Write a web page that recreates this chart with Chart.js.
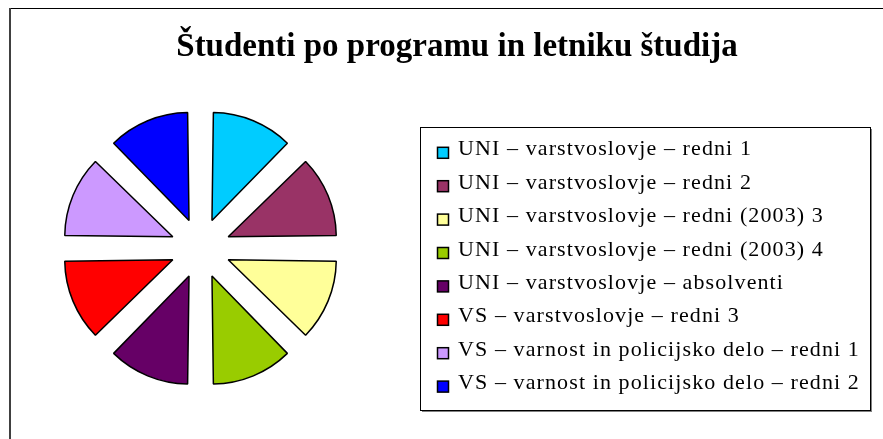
<!DOCTYPE html>
<html>
<head>
<meta charset="utf-8">
<script src="https://cdn.jsdelivr.net/npm/chart.js@4.4.1/dist/chart.umd.min.js"></script>
<style>
  html, body { margin: 0; padding: 0; background: #fff; }
  #wrap { width: 883px; height: 439px; position: relative; }
</style>
</head>
<body>
<div id="wrap"><canvas id="pie" width="883" height="439"></canvas></div>
<script>
// podatki
const naslov = "Študenti po programu in letniku študija";
const programi = [
    "UNI – varstvoslovje – redni 1",
    "UNI – varstvoslovje – redni 2",
    "UNI – varstvoslovje – redni (2003) 3",
    "UNI – varstvoslovje – redni (2003) 4",
    "UNI – varstvoslovje – absolventi",
    "VS – varstvoslovje – redni 3",
    "VS – varnost in policijsko delo – redni 1",
    "VS – varnost in policijsko delo – redni 2"
];
const stevilo = [1, 1, 1, 1, 1, 1, 1, 1];
const barve = ["#00CCFF", "#993366", "#FFFF99", "#99CC00", "#660066", "#FF0000", "#CC99FF", "#0000FF"];

//  okvir, naslov in legenda
const okvirPlugin = {
    id: 'okvir',
    beforeDraw(chart) {
        const ctx = chart.ctx;
        ctx.save();
        ctx.fillStyle = '#fff';
        ctx.fillRect(0, 0, chart.width, chart.height);
        // zunanji okvir
        ctx.strokeStyle = '#000';
        ctx.lineWidth = 1;
        ctx.beginPath();
        ctx.moveTo(9, 8.5);
        ctx.lineTo(chart.width, 8.5);
        ctx.stroke();
        ctx.strokeStyle = '#404040';
        ctx.lineWidth = 2;
        ctx.beginPath();
        ctx.moveTo(10, 8);
        ctx.lineTo(10, chart.height);
        ctx.stroke();
        ctx.restore();
    },
    afterDraw(chart) {
        const ctx = chart.ctx;
        ctx.save();
        // naslov
        ctx.fillStyle = '#000';
        ctx.font = 'bold 33px "Liberation Serif", "Times New Roman", serif';
        ctx.textAlign = 'center';
        ctx.textBaseline = 'alphabetic';
        ctx.fillText(naslov, 457, 56);

        // legenda - okvir s senco
        const lx = 420, ly = 127, lw = 450, lh = 283;
        ctx.fillStyle = '#808080';
        ctx.fillRect(lx + 2, ly + lh, lw, 2);
        ctx.fillRect(lx + lw, ly + 2, 2, lh);
        ctx.strokeStyle = '#000';
        ctx.lineWidth = 1;
        ctx.strokeRect(lx + 0.5, ly + 0.5, lw, lh);

        ctx.font = '22px "Liberation Serif", "Times New Roman", serif';
        ctx.letterSpacing = '1.1px';
        ctx.textAlign = 'left';
        ctx.textBaseline = 'alphabetic';
        programi.forEach((lbl, i) => {
            const cy = 152.8 + i * 33.4;
            ctx.fillStyle = barve[i];
            ctx.fillRect(437.5, cy - 5.5, 11, 11);
            ctx.strokeStyle = '#000';
            ctx.lineWidth = 1.5;
            ctx.strokeRect(437.5, cy - 5.5, 11, 11);
            ctx.fillStyle = '#000';
            ctx.fillText(lbl, 458, cy + 2.5);
        });
        ctx.restore();
    }
};

// Chart.js v4 deli offset z 4 (120 -> 30 px) in rezini doda se ~8.8 px polmera
const ctx = document.getElementById('pie').getContext('2d');
const pieChart = new Chart(ctx, {
    type: 'pie',
    data: {
        labels: programi,
        datasets: [{
            data: stevilo,
            backgroundColor: barve,
            borderColor: '#000',
            borderWidth: 1.5,
            offset: 120,
            hoverOffset: 120
        }]
    },
    options: {
        responsive: false,
        animation: false,
        layout: { padding: { left: 40.5, right: 522.5, top: 88.3, bottom: 30.7 } },
        plugins: {
            legend: { display: false },
            title: { display: false },
            tooltip: { enabled: false }
        }
    },
    plugins: [okvirPlugin]
});
</script>
</body>
</html>
